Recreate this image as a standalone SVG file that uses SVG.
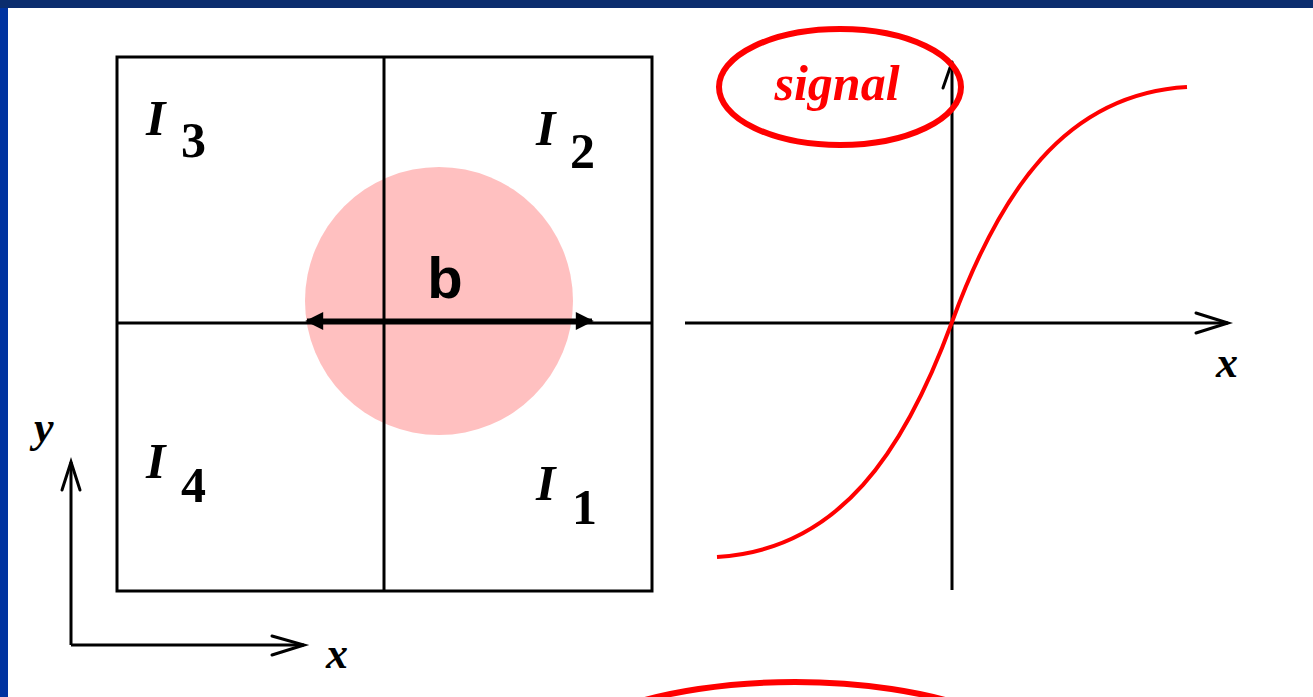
<svg xmlns="http://www.w3.org/2000/svg" width="1313" height="697" viewBox="0 0 1313 697">
<style>
.ln{stroke:#000;stroke-width:3;fill:none}
.open{stroke:#000;stroke-width:3;fill:none;stroke-linecap:round}
.lab{font-family:"Liberation Serif",serif;font-style:italic;font-weight:bold;fill:#000}
.sub{font-family:"Liberation Serif",serif;font-weight:bold;fill:#000}
.red{stroke:#ff0000;fill:none}
</style>
<defs>
<marker id="tri" viewBox="0 0 10 10" refX="9" refY="5" markerWidth="4.4" markerHeight="3.6" orient="auto-start-reverse" markerUnits="strokeWidth">
<path d="M0,0 L10,5 L0,10 Z" fill="#000"/>
</marker>
</defs>
<rect x="0" y="0" width="1313" height="697" fill="#ffffff"/>
<rect x="0" y="0" width="8" height="697" fill="#0033a0"/>
<rect x="0" y="0" width="1313" height="8" fill="#0b2d6e"/>

<g id="disc"><circle cx="439" cy="301" r="134" fill="#ffc0c0"/></g>

<g id="grid">
<rect x="117" y="57" width="535" height="534" class="ln"/>
<line x1="384" y1="57" x2="384" y2="591" class="ln"/>
<line x1="117" y1="323" x2="652" y2="323" class="ln"/>
</g>

<g id="labels">
<text x="146" y="135" class="lab" font-size="50">I</text><text x="181" y="157" class="sub" font-size="50">3</text>
<text x="536" y="145" class="lab" font-size="50">I</text><text x="570" y="168" class="sub" font-size="50">2</text>
<text x="146" y="478" class="lab" font-size="50">I</text><text x="181" y="502" class="sub" font-size="50">4</text>
<text x="536" y="500" class="lab" font-size="50">I</text><text x="572" y="524" class="sub" font-size="50">1</text>
</g>

<g id="connectors">
<line x1="307" y1="321" x2="592" y2="321" stroke="#000" stroke-width="5" marker-start="url(#tri)" marker-end="url(#tri)"/>
<path d="M71,645 L71,462" class="ln"/>
<path d="M62,490 L71,462 L80,490" class="open"/>
<path d="M71,645 L304,645" class="ln"/>
<path d="M272,636 L304,645 L272,655" class="open"/>
<path d="M952,590 L952,62" class="ln"/>
<path d="M943,88 L952,62" class="open"/>
<path d="M685,323 L1228,323" class="ln"/>
<path d="M1196,313 L1228,323 L1196,333" class="open"/>
</g>

<g id="b-label"><text x="445" y="298" font-family="Liberation Sans,sans-serif" font-weight="bold" font-size="58" text-anchor="middle">b</text></g>
<g id="axis-labels">
<text x="34" y="442" class="lab" font-size="44">y</text>
<text x="326" y="668" class="lab" font-size="44">x</text>
<text x="1216" y="377" class="lab" font-size="44">x</text>
</g>

<g id="curve">
<path d="M717,557 C840,550 905,450 952,322 C999,194 1064,94 1187,87" class="red" stroke-width="4"/>
</g>

<g id="signal">
<ellipse cx="840" cy="87" rx="121" ry="58" class="red" stroke-width="6"/>
<text x="837" y="100" font-family="Liberation Serif,serif" font-style="italic" font-weight="bold" font-size="50" fill="#ff0000" text-anchor="middle">signal</text>
</g>

<g id="bottom-ellipse">
<ellipse cx="795" cy="782" rx="262" ry="100" class="red" stroke-width="6"/>
</g>
</svg>
